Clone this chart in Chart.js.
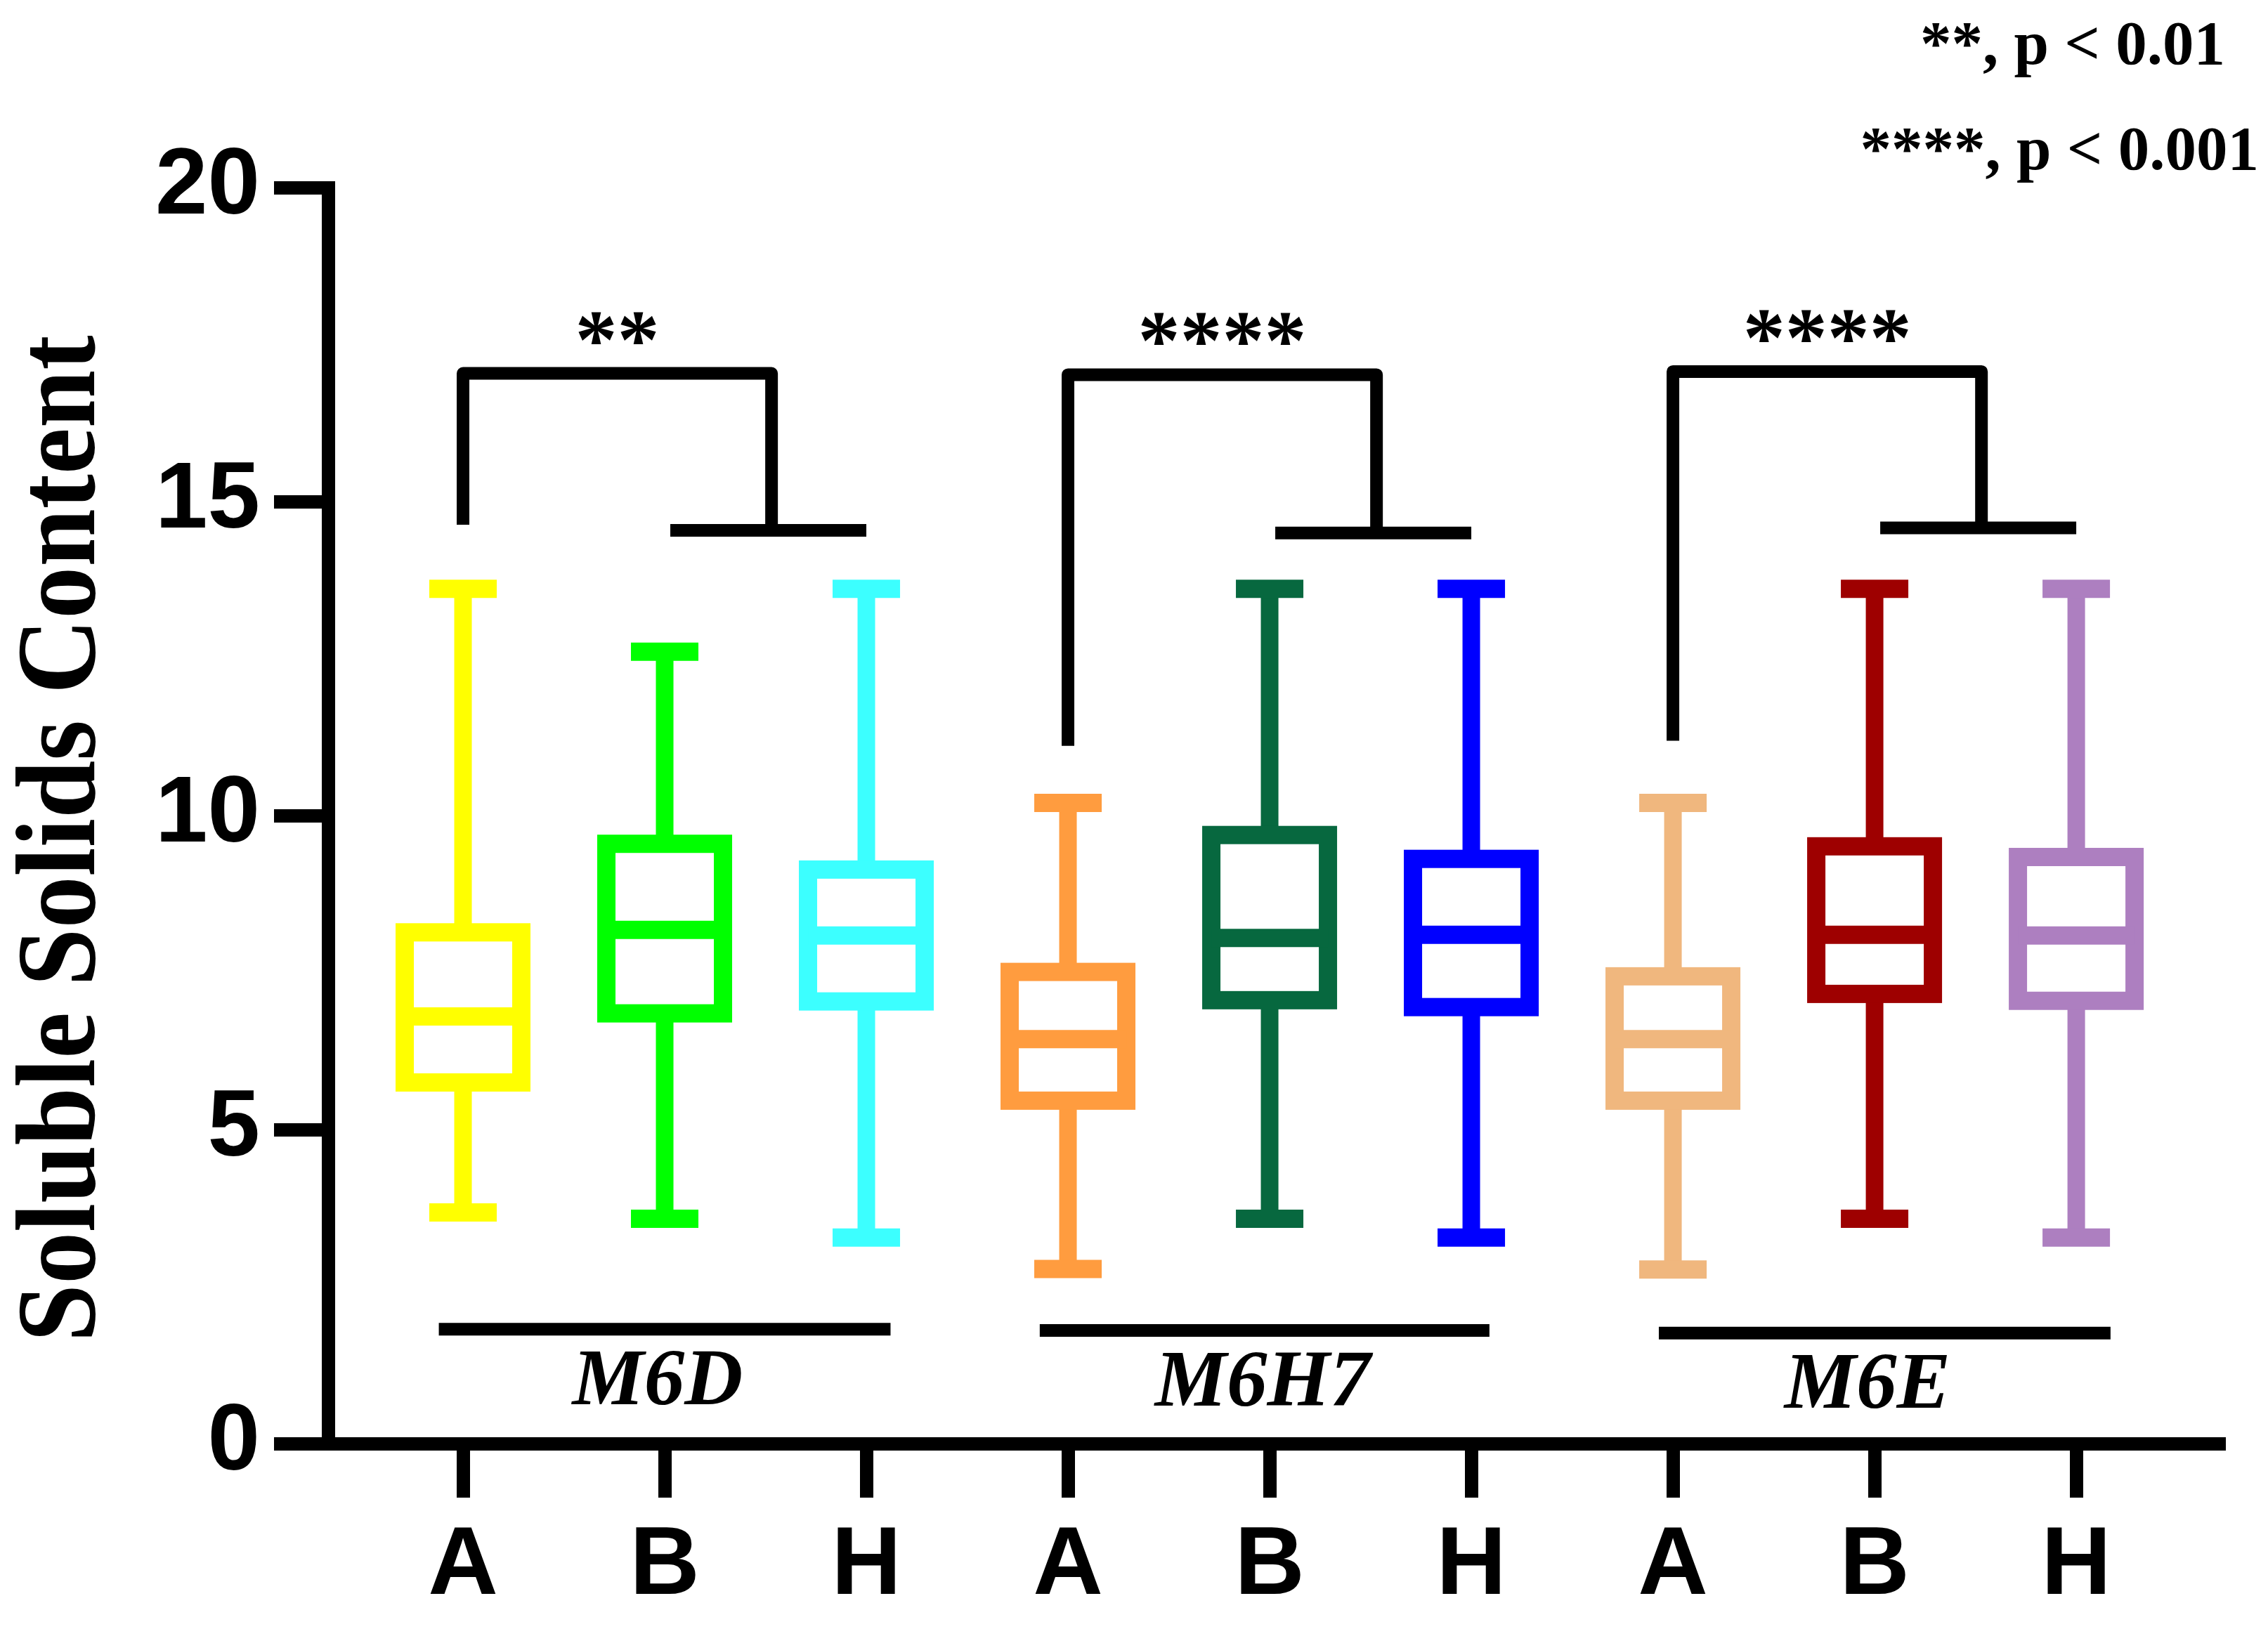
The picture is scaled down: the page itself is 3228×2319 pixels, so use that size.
<!DOCTYPE html>
<html>
<head>
<meta charset="utf-8">
<title>Soluble Solids Content</title>
<script src="https://cdn.jsdelivr.net/npm/chart.js@4.4.1/dist/chart.umd.min.js"></script>
<style>
  html, body { margin: 0; padding: 0; background: #fff; }
  canvas { display: block; }
</style>
</head>
<body>
<canvas id="chart" width="3228" height="2319"></canvas>
<script>
// categories (three genotypes per marker group)
const xLabels = ['A', 'B', 'H', 'A', 'B', 'H', 'A', 'B', 'H'];
const xPos = [1, 2, 3, 4, 5, 6, 7, 8, 9];
const groups = ['M6D', 'M6H7', 'M6E'];

// box plot values
const whiskerMin = [3.68, 3.58, 3.28, 2.78, 3.58, 3.28, 2.77, 3.58, 3.28];
const q1 = [5.75, 6.85, 7.04, 5.46, 7.06, 6.95, 5.46, 7.16, 7.05];
const medians = [6.80, 8.18, 8.09, 6.44, 8.05, 8.10, 6.44, 8.10, 8.09];
const q3 = [8.14, 9.55, 9.14, 7.51, 9.69, 9.31, 7.44, 9.51, 9.34];
const whiskerMax = [13.61, 12.61, 13.61, 10.20, 13.61, 13.61, 10.20, 13.61, 13.61];

// significance brackets, one per group (y values)
const sigLabels = ['**', '****', '****'];
const bracketTop = [17.04, 17.02, 17.07];
const bracketLow = [14.54, 14.50, 14.58];
const bracketLeftEnd = [14.63, 11.11, 11.19];

// group underline bars (x from/to, y)
const groupLineFrom = [0.88, 3.86, 6.93];
const groupLineTo = [3.12, 6.09, 9.17];
const groupLineY = [1.82, 1.80, 1.76];
const pNotes = ['**, p < 0.01', '****, p < 0.001'];

const yTicks = [0, 5, 10, 15, 20];
const yTitle = 'Soluble Solids Content';

const boxColors = ['#FFFF00', '#00FF00', '#3CFFFF', '#FF9C3F', '#07683F',
                   '#0000FF', '#F0B77E', '#9E0000', '#AD7FC0'];

const serif = '"Liberation Serif", "Times New Roman", serif';
const sans = '"Liberation Sans", Arial, sans-serif';

const boxPlotPlugin = {
  id: 'boxPlot',
  afterDraw(chart) {
    const { ctx, chartArea, scales: { x, y } } = chart;
    const meta = chart.getDatasetMeta(0);
    ctx.save();
    ctx.lineCap = 'butt';
    ctx.lineJoin = 'miter';

    xPos.forEach((pos, i) => {
      const cx = x.getPixelForValue(pos);
      const half = meta.data[i].width / 2;
      const yMin = y.getPixelForValue(whiskerMin[i]);
      const yQ1 = y.getPixelForValue(q1[i]);
      const yMed = y.getPixelForValue(medians[i]);
      const yQ3 = y.getPixelForValue(q3[i]);
      const yMax = y.getPixelForValue(whiskerMax[i]);
      ctx.strokeStyle = boxColors[i];

      ctx.lineWidth = 25;
      ctx.beginPath();
      ctx.moveTo(cx, yQ3); ctx.lineTo(cx, yMax);
      ctx.moveTo(cx, yQ1); ctx.lineTo(cx, yMin);
      ctx.stroke();

      ctx.lineWidth = 26;
      ctx.beginPath();
      ctx.moveTo(cx - 48, yMax); ctx.lineTo(cx + 48, yMax);
      ctx.moveTo(cx - 48, yMin); ctx.lineTo(cx + 48, yMin);
      ctx.stroke();

      ctx.strokeRect(cx - half, yQ3, half * 2, yQ1 - yQ3);
      ctx.beginPath();
      ctx.moveTo(cx - half, yMed); ctx.lineTo(cx + half, yMed);
      ctx.stroke();
    });

    // brackets and group bars
    ctx.strokeStyle = '#000';
    ctx.fillStyle = '#000';
    ctx.lineWidth = 18;
    ctx.lineJoin = 'round';
    groups.forEach((name, k) => {
      const left = x.getPixelForValue(xPos[3 * k]);
      const lowFrom = x.getPixelForValue(xPos[3 * k + 1]);
      const lowTo = x.getPixelForValue(xPos[3 * k + 2]);
      const right = x.getPixelForValue((xPos[3 * k + 1] + xPos[3 * k + 2]) / 2 + 0.03);
      const top = y.getPixelForValue(bracketTop[k]);
      const low = y.getPixelForValue(bracketLow[k]);

      ctx.beginPath();
      ctx.moveTo(left, y.getPixelForValue(bracketLeftEnd[k]));
      ctx.lineTo(left, top);
      ctx.lineTo(right, top);
      ctx.lineTo(right, low);
      ctx.stroke();
      ctx.beginPath();
      ctx.moveTo(lowFrom + 8, low); ctx.lineTo(lowTo, low);
      ctx.stroke();

      ctx.font = 'bold 120px ' + serif;
      ctx.textAlign = 'center';
      ctx.textBaseline = 'alphabetic';
      ctx.fillText(sigLabels[k], (left + right) / 2, top - 8);

      const gy = y.getPixelForValue(groupLineY[k]);
      ctx.beginPath();
      ctx.moveTo(x.getPixelForValue(groupLineFrom[k]), gy);
      ctx.lineTo(x.getPixelForValue(groupLineTo[k]), gy);
      ctx.stroke();

      ctx.font = 'italic bold 115px ' + serif;
      ctx.textBaseline = 'middle';
      ctx.fillText(name, x.getPixelForValue(xPos[3 * k + 1]) - 10, gy + 77);
    });

    // p-value notes, top right
    ctx.font = 'bold 89px ' + serif;
    ctx.textAlign = 'right';
    ctx.textBaseline = 'alphabetic';
    ctx.fillText(pNotes[0], chart.width - 61, 91);
    ctx.fillText(pNotes[1], chart.width - 13, 241);

    // y axis title, squeezed a little to the original's narrower face
    ctx.font = 'bold 160px ' + serif;
    ctx.textAlign = 'center';
    const w = ctx.measureText(yTitle).width;
    ctx.translate(134, (chartArea.top + chartArea.bottom) / 2 + 33);
    ctx.rotate(-Math.PI / 2);
    ctx.scale(1433 / w, 1);
    ctx.fillText(yTitle, 0, 0);
    ctx.restore();
  }
};

const ctx = document.getElementById('chart').getContext('2d');
Chart.defaults.color = '#000';

new Chart(ctx, {
  type: 'bar',
  data: {
    datasets: [{
      data: xPos.map((v, i) => ({ x: v, y: [q1[i], q3[i]] })),
      backgroundColor: 'rgba(255,255,255,0)',
      borderWidth: 0,
      barThickness: 166
    }]
  },
  options: {
    responsive: false,
    animation: false,
    layout: { padding: { top: 267, right: 70, bottom: 0, left: 0 } },
    plugins: { legend: { display: false }, tooltip: { enabled: false } },
    scales: {
      x: {
        type: 'linear',
        offset: false,
        min: 0.331,
        max: 9.707,
        afterBuildTicks: axis => { axis.ticks = xPos.map(v => ({ value: v })); },
        afterFit: axis => { axis.height = 264; },
        ticks: {
          callback: (value, index) => xLabels[index],
          font: { family: sans, size: 138, weight: 'bold' },
          padding: 16,
          maxRotation: 0,
          autoSkip: false
        },
        grid: { offset: false, drawOnChartArea: false, tickLength: 77, lineWidth: 19, color: '#000' },
        border: { width: 19, color: '#000' }
      },
      y: {
        min: 0,
        max: 20,
        afterBuildTicks: axis => { axis.ticks = yTicks.map(v => ({ value: v })); },
        afterFit: axis => { axis.width = 467; },
        ticks: {
          font: { family: sans, size: 134, weight: 'bold' },
          padding: 20
        },
        grid: { drawOnChartArea: false, tickLength: 77, lineWidth: 19, color: '#000' },
        border: { width: 19, color: '#000' }
      }
    }
  },
  plugins: [boxPlotPlugin]
});
</script>
</body>
</html>
